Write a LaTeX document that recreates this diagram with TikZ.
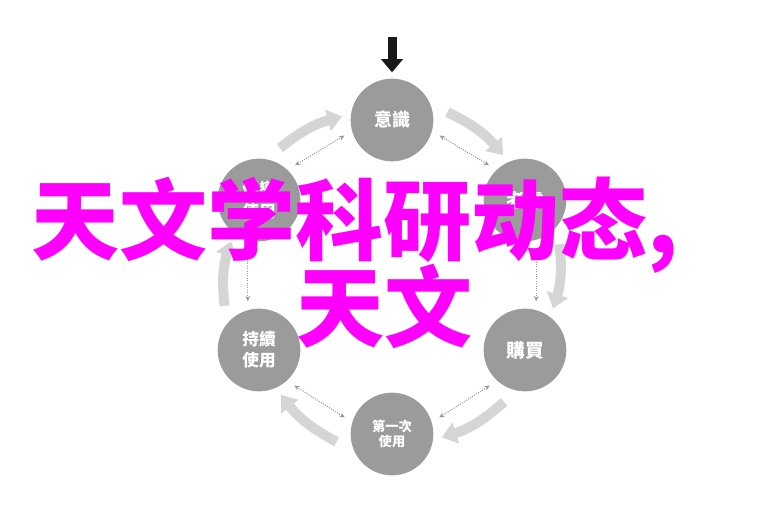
\documentclass[tikz,border=0pt]{standalone}
\usepackage{fontspec}
\usepackage{xcolor}
\usepackage{tikz}
\usetikzlibrary{arrows.meta, calc}
\newfontfamily\cjksc{Noto Sans CJK SC}
\newfontfamily\cjktc{Noto Sans CJK TC}
\definecolor{stagegray}{HTML}{9B9B9B}
\definecolor{flowgray}{HTML}{D5D5D5}
\definecolor{linkgray}{HTML}{999999}
\definecolor{titlepink}{RGB}{255,0,255}

\begin{document}
\begin{tikzpicture}[x=0.75pt,y=0.75pt,
  stage/.style={circle,fill=stagegray,text=white,minimum size=62pt,inner sep=0pt,
    align=center,font=\cjktc\bfseries},
  flow/.style={draw=flowgray,line width=7.5pt,-{Triangle[width=16pt,length=11pt]}},
  link/.style={draw=linkgray,line width=0.8pt,densely dotted,
    {Stealth[length=4pt,width=3.5pt]}-{Stealth[length=4pt,width=3.5pt]}},
  push/.style={draw=black!90,line width=6.75pt,-{Triangle[width=16pt,length=10pt]},shorten >=4.5pt},
  title/.style={text=titlepink,anchor=base west,inner sep=0pt,
    font=\cjksc\bfseries\fontsize{66pt}{66pt}\selectfont}]

  \useasboundingbox (0,0) rectangle (768,512);

  \node[stage,font=\cjktc\bfseries\fontsize{13.5pt}{16pt}\selectfont] (aware) at (392,392) {意識};
  \node[stage,font=\cjktc\bfseries\fontsize{14pt}{16pt}\selectfont] (consider) at (525,312) {考慮};
  \node[stage,font=\cjktc\bfseries\fontsize{14pt}{16pt}\selectfont] (buy) at (525,162) {購買};
  \node[stage,font=\cjktc\bfseries\fontsize{10pt}{11.5pt}\selectfont] (first) at (392,78) {第一次\\使用};
  \node[stage,font=\cjktc\bfseries\fontsize{12.5pt}{16pt}\selectfont] (keep) at (259,162) {持續\\使用};
  \node[stage,font=\cjktc\bfseries\fontsize{12.5pt}{16pt}\selectfont] (advocate) at (259,312) {倡導\\使用};

  \coordinate (drop) at (392,475);
  \draw[push] (drop) -- (aware);

  % outer cycle, clockwise
  \foreach \a/\t/\b in {advocate/150/aware, aware/90/consider, consider/30/buy,
      buy/-30/first, first/-90/keep, keep/-150/advocate}
    \draw[flow] ($(\a)+(\t-82:56)$) to[bend left=12] ($(\b)+(\t+26:50)$);

  % inner two-way links
  \foreach \a/\b in {advocate/aware, aware/consider, consider/buy,
      buy/first, first/keep, keep/advocate}
    \draw[link] ($(\a)!37.5pt!13:(\b)$) -- ($(\b)!37.5pt!-13:(\a)$);

  \node[title] (title1) at (31,259) {天文学科研动态,};
  \node[title] (title2) at (296,172) {天文};
\end{tikzpicture}
\end{document}
